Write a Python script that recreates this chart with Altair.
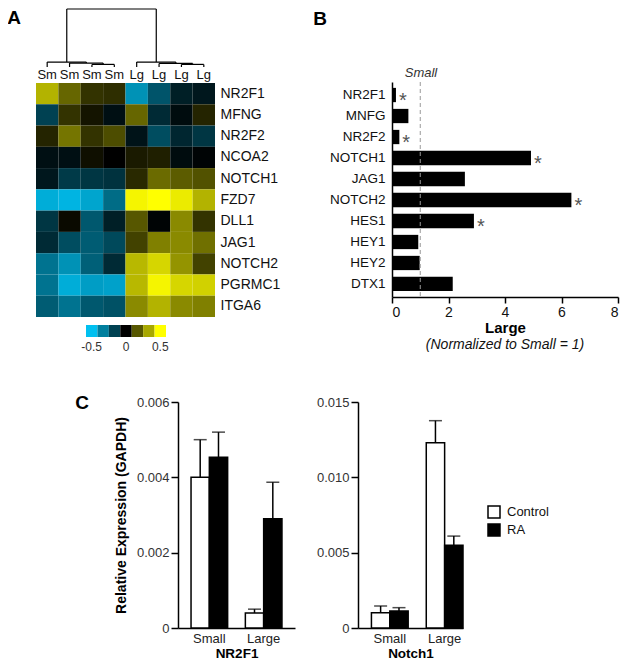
import altair as alt
import pandas as pd

FONT = "Liberation Sans"

# ---------------- Panel A: heatmap ----------------
genes_a = ["NR2F1", "MFNG", "NR2F2", "NCOA2", "NOTCH1", "FZD7", "DLL1", "JAG1",
           "NOTCH2", "PGRMC1", "ITGA6"]
samples = ["Sm1", "Sm2", "Sm3", "Sm4", "Lg1", "Lg2", "Lg3", "Lg4"]
heat_nr2f1 = [0.35, 0.20, 0.10, 0.09, -0.38, -0.22, -0.08, -0.06]
heat_mfng = [-0.17, 0.10, 0.04, -0.04, 0.20, -0.11, -0.03, 0.07]
heat_nr2f2 = [0.07, 0.23, 0.10, 0.15, -0.05, -0.20, -0.10, -0.14]
heat_ncoa2 = [-0.04, -0.04, 0.03, 0.00, 0.05, 0.06, -0.03, -0.01]
heat_notch1 = [-0.06, -0.15, -0.14, -0.13, 0.08, 0.21, 0.18, 0.16]
heat_fzd7 = [-0.45, -0.47, -0.43, -0.28, 0.48, 0.50, 0.46, 0.35]
heat_dll1 = [-0.14, 0.02, -0.23, -0.08, 0.17, -0.01, 0.27, 0.10]
heat_jag1 = [-0.11, -0.20, -0.24, -0.19, 0.13, 0.25, 0.27, 0.22]
heat_notch2 = [-0.30, -0.38, -0.25, -0.11, 0.36, 0.42, 0.29, 0.13]
heat_pgrmc1 = [-0.30, -0.45, -0.41, -0.42, 0.36, 0.48, 0.42, 0.41]
heat_itga6 = [-0.24, -0.30, -0.23, -0.21, 0.27, 0.35, 0.27, 0.25]
heat_rows = [heat_nr2f1, heat_mfng, heat_nr2f2, heat_ncoa2, heat_notch1, heat_fzd7,
             heat_dll1, heat_jag1, heat_notch2, heat_pgrmc1, heat_itga6]
colorbar_steps = [-0.5, -0.33, -0.17, 0.0, 0.17, 0.33, 0.5]

# dendrogram: (left child, right child, merge height); leaves are column indices
dendro_merges = [(2, 3, 0.27), (1, "m0", 0.41), (0, "m1", 0.51),
                 (6, 7, 0.27), (5, "m3", 0.37), (4, "m4", 0.51),
                 ("m2", "m5", 6.0)]

# ---------------- Panel B ----------------
genes_b = ["NR2F1", "MNFG", "NR2F2", "NOTCH1", "JAG1", "NOTCH2", "HES1", "HEY1", "HEY2", "DTX1"]
fold_b = [0.14, 0.58, 0.26, 4.92, 2.58, 6.35, 2.90, 0.93, 0.98, 2.15]
signif_b = [True, False, True, True, False, True, True, False, False, False]

# ---------------- Panel C ----------------
groups = ["Small", "Large"]
treatments = ["Control", "RA"]
nr2f1_ctrl_mean = [0.0040, 0.0004]
nr2f1_ctrl_upper = [0.0050, 0.0005]
nr2f1_ra_mean = [0.00453, 0.0029]
nr2f1_ra_upper = [0.0052, 0.00387]
notch1_ctrl_mean = [0.00102, 0.0123]
notch1_ctrl_upper = [0.00146, 0.01376]
notch1_ra_mean = [0.00113, 0.00549]
notch1_ra_upper = [0.00135, 0.0061]

W, H = 613, 653

# ---- build tables ----
heat_df = pd.DataFrame([{"gene": g, "sample": s, "z": heat_rows[i][j]}
                        for i, g in enumerate(genes_a) for j, s in enumerate(samples)])
cb_df = pd.DataFrame({"step": colorbar_steps, "row": ["r"] * len(colorbar_steps)})

nodes = {i: (float(i), 0.0) for i in range(len(samples))}
segs = []
for k, (a, b, h) in enumerate(dendro_merges):
    xa, ha = nodes[a]
    xb, hb = nodes[b]
    segs.append({"x": xa, "x2": xa, "y": ha, "y2": h})
    segs.append({"x": xb, "x2": xb, "y": hb, "y2": h})
    segs.append({"x": xa, "x2": xb, "y": h, "y2": h})
    nodes["m%d" % k] = ((xa + xb) / 2, h)
dendro_df = pd.DataFrame(segs)

color_scale = alt.Scale(domain=[-0.5, 0, 0.5], range=["#00c0f0", "#000000", "#ffff00"],
                        clamp=True, interpolate="rgb")

dendro = alt.Chart(dendro_df).mark_rule(color="black", strokeWidth=1.2).encode(
    x=alt.X("x:Q", scale=alt.Scale(domain=[-0.5, 7.5], range=[28, 207], nice=False, zero=False), axis=None),
    x2="x2:Q",
    y=alt.Y("y:Q", scale=alt.Scale(domain=[0, 6], range=[59, 1], nice=False), axis=None),
    y2="y2:Q",
)

heat = alt.Chart(heat_df).mark_rect().encode(
    x=alt.X("sample:N", sort=samples,
            scale=alt.Scale(range=[28, 207], paddingInner=0, paddingOuter=0),
            axis=alt.Axis(orient="top", offset=-75, title=None, ticks=False, domain=False,
                          labelAngle=0, labelExpr="slice(datum.label, 0, 2)",
                          labelFontSize=13, labelPadding=2, labelColor="#111")),
    y=alt.Y("gene:N", sort=genes_a,
            scale=alt.Scale(range=[75, 309], paddingInner=0, paddingOuter=0),
            axis=alt.Axis(orient="right", offset=207 - W, title=None, ticks=False, domain=False,
                          labelFontSize=14, labelPadding=5, labelColor="#111", labelOverlap=False)),
    color=alt.Color("z:Q", scale=color_scale, legend=None),
)

cbar = alt.Chart(cb_df).mark_rect().encode(
    x=alt.X("step:O", scale=alt.Scale(range=[78, 158], paddingInner=0, paddingOuter=0),
            axis=alt.Axis(orient="bottom", offset=329 - H, title=None, ticks=False, domain=False,
                          labelAngle=0, labelFontSize=12, labelPadding=4, labelColor="#333",
                          labelOverlap=False,
                          labelExpr="datum.value == -0.5 ? '-0.5' : datum.value == 0 ? '0' : datum.value == 0.5 ? '0.5' : ''")),
    y=alt.Y("row:N", scale=alt.Scale(range=[317, 329], paddingInner=0, paddingOuter=0), axis=None),
    color=alt.Color("step:Q", scale=color_scale, legend=None),
)

# ---- Panel B ----
b_df = pd.DataFrame({"gene": genes_b, "fold": fold_b,
                     "star": ["*" if s else "" for s in signif_b]})
bx = alt.Scale(domain=[0, 8], range=[384, 610], nice=False)
by = alt.Scale(range=[74, 289], paddingInner=0.32, paddingOuter=0.28)
bx_axis = alt.Axis(orient="bottom", offset=289 - H, values=[0, 2, 4, 6, 8], title="Large",
                   titleFontSize=15, titleFontWeight="bold", titleColor="black",
                   titlePadding=1, labelFontSize=14, labelPadding=2, tickSize=6,
                   domainWidth=1.5, tickWidth=1.5, labelColor="#111")
by_axis = alt.Axis(orient="left", offset=-384, title=None, ticks=False,
                   labelFontSize=13.5, labelPadding=7, labelColor="#111",
                   domainWidth=1.5, labelOverlap=False)

bars_b = alt.Chart(b_df).mark_bar(color="black").encode(
    x=alt.X("fold:Q", scale=bx, axis=bx_axis),
    y=alt.Y("gene:N", sort=genes_b, scale=by, axis=by_axis),
)
stars_b = alt.Chart(b_df).mark_text(align="left", baseline="middle", dx=3, dy=6,
                                    fontSize=20, color="#555").encode(
    x=alt.X("fold:Q", scale=bx, axis=bx_axis),
    y=alt.Y("gene:N", sort=genes_b, scale=by, axis=by_axis),
    text="star:N",
)
ref_b = alt.Chart(pd.DataFrame({"fold": [1.0]})).mark_rule(
    color="#999", strokeDash=[4, 3], strokeWidth=1).encode(
    x=alt.X("fold:Q", scale=bx, axis=bx_axis),
    y=alt.value(74), y2=alt.value(289),
)
panel_b = alt.layer(bars_b, ref_b, stars_b)

small_lbl = alt.Chart(pd.DataFrame({"t": ["Small"]})).mark_text(
    fontSize=13, fontStyle="italic", color="#333").encode(
    text="t:N", x=alt.value(413), y=alt.value(65))
norm_lbl = alt.Chart(pd.DataFrame({"t": ["(Normalized to Small = 1)"]})).mark_text(
    fontSize=14, fontStyle="italic", color="#111").encode(
    text="t:N", x=alt.value(497), y=alt.value(337))


# ---- Panel C ----
def c_table(cm, cu, rm, ru):
    rows = []
    for i, g in enumerate(groups):
        rows.append({"group": g, "treatment": "Control", "mean": cm[i], "upper": cu[i]})
        rows.append({"group": g, "treatment": "RA", "mean": rm[i], "upper": ru[i]})
    return pd.DataFrame(rows)


def c_panel(df, xr, pi, po, align, ydom, yvals, xtitle, ytitle, legend):
    xs = alt.Scale(domain=groups, range=xr, paddingInner=pi, paddingOuter=po, align=align)
    ys = alt.Scale(domain=ydom, range=[620, 394], nice=False)
    xo = alt.Scale(domain=treatments, paddingInner=0, paddingOuter=0)
    xaxis = alt.Axis(orient="bottom", offset=620 - H, title=xtitle, ticks=False, labelAngle=0,
                     labelFontSize=13, labelPadding=4, titleFontSize=13.5, titleFontWeight="bold",
                     titleColor="black", titlePadding=1, domainWidth=1.5, labelColor="#222")
    yaxis = alt.Axis(orient="left", offset=-xr[0], values=yvals, title=ytitle,
                     titleFontSize=14, titleFontWeight="bold", titleColor="black",
                     titlePadding=8, labelFontSize=13, labelPadding=2, labelColor="#333",
                     tickSize=7, tickWidth=1.5, domainWidth=1.5,
                     labelExpr="datum.value == 0 ? '0' : format(datum.value, '.3f')")
    base = alt.Chart(df).encode(
        x=alt.X("group:N", sort=groups, scale=xs, axis=xaxis),
        xOffset=alt.XOffset("treatment:N", sort=treatments, scale=xo),
    )
    bars = base.mark_bar(stroke="black", strokeWidth=1.5).encode(
        y=alt.Y("mean:Q", scale=ys, axis=yaxis),
        fill=alt.Fill("treatment:N", scale=alt.Scale(domain=treatments, range=["white", "black"]),
                      legend=legend),
    )
    err = base.mark_rule(color="black", strokeWidth=1.5).encode(
        y=alt.Y("mean:Q", scale=ys, axis=yaxis), y2="upper:Q")
    cap = base.mark_tick(color="black", thickness=1.5, size=13).encode(
        y=alt.Y("upper:Q", scale=ys, axis=yaxis))
    return alt.layer(bars, err, cap)


c_left = c_panel(c_table(nr2f1_ctrl_mean, nr2f1_ctrl_upper, nr2f1_ra_mean, nr2f1_ra_upper),
                 [170, 287], 0.326, 0.24, 0.5, [0, 0.006], [0, 0.002, 0.004, 0.006],
                 "NR2F1", "Relative Expression (GAPDH)", None)
c_right = c_panel(c_table(notch1_ctrl_mean, notch1_ctrl_upper, notch1_ra_mean, notch1_ra_upper),
                  [350, 455], 0.33, 0.1225, 1, [0, 0.015], [0, 0.005, 0.010, 0.015],
                  "Notch1", None,
                  alt.Legend(orient="none", legendX=479, legendY=497, title=None,
                             symbolType="square", symbolSize=144, symbolStrokeColor="black",
                             symbolStrokeWidth=1.5, labelFontSize=13, labelOffset=6,
                             rowPadding=0, padding=0, labelColor="#111"))


def letter(t, x, y):
    return alt.Chart(pd.DataFrame({"t": [t]})).mark_text(
        fontSize=19, fontWeight="bold", color="black").encode(
        text="t:N", x=alt.value(x), y=alt.value(y))


chart = alt.layer(
    dendro, heat, cbar, panel_b, small_lbl, norm_lbl, c_left, c_right,
    letter("A", 6, 10), letter("B", 312, 11), letter("C", 74, 395),
).resolve_scale(
    x="independent", y="independent", color="independent", fill="independent",
    xOffset="independent",
).properties(
    width=W, height=H, padding=0, autosize=alt.AutoSizeParams(type="none"),
).configure_view(stroke=None).configure_axis(
    grid=False, labelFont=FONT, titleFont=FONT, domainColor="black", tickColor="black",
).configure_text(font=FONT).configure_legend(labelFont=FONT)

chart.save("out.html", embed_options={"renderer": "svg", "actions": False})
